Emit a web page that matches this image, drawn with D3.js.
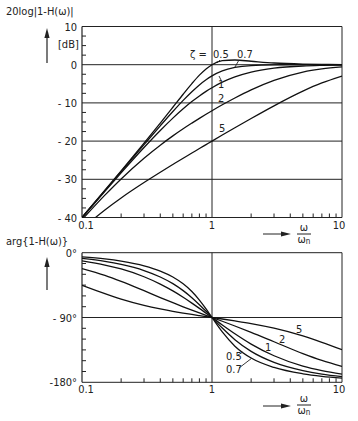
<!DOCTYPE html>
<html><head><meta charset="utf-8">
<script src="https://cdn.jsdelivr.net/npm/d3@7"></script>
<style>
body{margin:0;background:#fff;}
svg text{font-family:"DejaVu Sans Condensed","Liberation Sans Narrow","DejaVu Sans",sans-serif;fill:#222;}
</style></head>
<body><svg id="c" width="358" height="421"></svg>
<script>
// ---- data ----
const omega = [0.1,0.15,0.2,0.3,0.4,0.5,0.6,0.7,0.8,0.9,1,1.2,1.5,2,3,5,7,10];
const zetaLabels = ["0.5","0.7","1","2","5"];
// magnitude 20log|1-H(ω)| in dB
const mag05 = [-39.96,-32.86,-27.79,-20.55,-15.29,-11.14,-7.73,-4.95,-2.74,-1.10,0,1.04,1.23,0.90,0.45,0.17,0.08,0.04];
const mag07 = [-40.0,-32.96,-27.96,-20.94,-16.0,-12.26,-9.34,-7.07,-5.29,-3.94,-2.92,-1.62,-0.72,-0.22,-0.04,0,0,0];
const mag1  = [-40.09,-33.15,-28.30,-21.67,-17.21,-13.98,-11.54,-9.66,-8.18,-6.98,-6.02,-4.58,-3.20,-1.94,-0.92,-0.34,-0.18,-0.09];
const mag2  = [-40.57,-34.15,-29.90,-24.48,-21.06,-18.63,-16.77,-15.29,-14.04,-12.97,-12.04,-10.49,-8.71,-6.59,-4.10,-1.93,-1.10,-0.57];
const mag5  = [-42.97,-38.02,-34.88,-30.85,-28.15,-26.12,-24.48,-23.13,-21.95,-20.92,-20.0,-18.42,-16.51,-14.08,-10.76,-6.92,-4.78,-2.97];
// phase arg{1-H(ω)} in degrees
const ph05 = [-5.8,-8.7,-11.8,-18.2,-25.5,-33.7,-43.2,-53.9,-65.8,-78.1,-90,-110.1,-129.8,-146.3,-159.4,-168.2,-171.7,-174.2];
const ph07 = [-8.0,-12.1,-16.3,-24.8,-33.7,-43.0,-52.7,-62.5,-72.2,-81.4,-90,-104.7,-120.8,-137.0,-152.3,-163.7,-168.5,-172.0];
const ph1  = [-11.4,-17.1,-22.6,-33.4,-43.6,-53.1,-61.9,-70.0,-77.3,-84.0,-90,-100.4,-112.6,-126.9,-143.1,-157.4,-163.7,-168.6];
const ph2  = [-22.0,-31.5,-39.8,-52.8,-62.3,-69.4,-75.1,-79.7,-83.6,-87.0,-90,-95.2,-101.8,-110.6,-123.7,-140.2,-149.7,-158.0];
const ph5  = [-45.3,-56.9,-64.4,-73.1,-78.1,-81.5,-83.9,-85.8,-87.4,-88.8,-90,-92.1,-94.8,-98.5,-104.9,-115.6,-124.4,-134.7];
const magTicks = [10,0,-10,-20,-30,-40];
const magTickLabels = ["10","0","- 10","- 20","- 30","- 40"];
const phTicks = [0,-90,-180];
const phTickLabels = ["0°","- 90°","-180°"];
const xTicks = [0.1,1,10];
const xTickLabels = ["0.1","1","10"];

const magSeries = [mag05,mag07,mag1,mag2,mag5];
const phSeries = [ph05,ph07,ph1,ph2,ph5];

// ---- drawing ----
const svg = d3.select("#c");
const ink = "#222";
const x = d3.scaleLog().domain([0.1,10]).range([82,342]);
const yM = d3.scaleLinear().domain([-40,10]).range([217.5,26.5]);
const yP = d3.scaleLinear().domain([-180,0]).range([382.3,252.7]);

function minorX(){
  const m=[];
  [0.1,1].forEach(d=>{for(let k=2;k<=9;k++) m.push(d*k);});
  return m;
}

function panel(y, ticks, labels, minorStep, series, clipId){
  const g = svg.append("g");
  const [y0,y1] = y.domain();
  // horizontal grid lines (including borders)
  g.selectAll("line.h").data(ticks).enter().append("line")
    .attr("x1",x(0.1)).attr("x2",x(10))
    .attr("y1",d=>y(d)).attr("y2",d=>y(d))
    .attr("stroke",ink).attr("stroke-width",1);
  // vertical lines
  g.selectAll("line.v").data([0.1,1,10]).enter().append("line")
    .attr("x1",d=>x(d)).attr("x2",d=>x(d))
    .attr("y1",y(y1)).attr("y2",y(y0))
    .attr("stroke",ink).attr("stroke-width",d=>d===0.1?1.2:1);
  // minor y ticks
  const minors = d3.range(y0,y1+0.001,minorStep).filter(v=>!ticks.includes(v));
  g.selectAll("line.my").data(minors).enter().append("line")
    .attr("x1",x(0.1)).attr("x2",x(0.1)+4)
    .attr("y1",d=>y(d)).attr("y2",d=>y(d))
    .attr("stroke",ink).attr("stroke-width",1);
  // minor x ticks
  g.selectAll("line.mx").data(minorX()).enter().append("line")
    .attr("x1",d=>x(d)).attr("x2",d=>x(d))
    .attr("y1",y(y0)).attr("y2",y(y0)-4)
    .attr("stroke",ink).attr("stroke-width",1);
  // y tick labels
  g.selectAll("text.yl").data(ticks).enter().append("text")
    .attr("x",x(0.1)-5).attr("y",d=>y(d)+4)
    .attr("text-anchor","end").attr("font-size",11)
    .text((d,i)=>labels[i]);
  // clip
  svg.append("clipPath").attr("id",clipId).append("rect")
    .attr("x",x(0.1)).attr("y",y(y1)).attr("width",x(10)-x(0.1)).attr("height",y(y0)-y(y1));
  const line = d3.line().x((d,i)=>x(omega[i])).y(d=>y(d)).curve(d3.curveMonotoneX);
  g.append("g").attr("clip-path",`url(#${clipId})`)
    .selectAll("path").data(series).enter().append("path")
    .attr("d",line).attr("fill","none").attr("stroke","#111").attr("stroke-width",1.3);
  // x tick labels
  const by = y(y0)+11;
  g.selectAll("text.xl").data(xTicks).enter().append("text")
    .attr("x",(d,i)=>i===0?x(d)+4:(i===2?x(d)-3:x(d)))
    .attr("y",by).attr("text-anchor","middle").attr("font-size",11)
    .text((d,i)=>xTickLabels[i]);
  return g;
}

panel(yM, magTicks, magTickLabels, 2.5, magSeries, "clipM");
panel(yP, phTicks, phTickLabels, 15, phSeries, "clipP");

// axis titles and arrows
function upArrow(xp, yTop, yBot){
  svg.append("line").attr("x1",xp).attr("x2",xp).attr("y1",yBot).attr("y2",yTop+8)
    .attr("stroke",ink).attr("stroke-width",1.2);
  svg.append("path").attr("d",`M${xp},${yTop} L${xp-2.6},${yTop+10} L${xp+2.6},${yTop+10} Z`).attr("fill",ink);
}
function rightArrow(x0, x1, yp){
  svg.append("line").attr("x1",x0).attr("x2",x1-8).attr("y1",yp).attr("y2",yp)
    .attr("stroke",ink).attr("stroke-width",1);
  svg.append("path").attr("d",`M${x1},${yp} L${x1-10},${yp-2.5} L${x1-10},${yp+2.5} Z`).attr("fill",ink);
}
function fraction(cx, yBar){
  svg.append("text").attr("x",cx).attr("y",yBar-3).attr("text-anchor","middle").attr("font-size",11).text("ω");
  svg.append("line").attr("x1",cx-7).attr("x2",cx+7).attr("y1",yBar).attr("y2",yBar).attr("stroke",ink).attr("stroke-width",1);
  const t = svg.append("text").attr("x",cx).attr("y",yBar+9).attr("text-anchor","middle").attr("font-size",11);
  t.append("tspan").text("ω");
  t.append("tspan").attr("font-size",8).attr("dy",1).text("n");
}

svg.append("text").attr("x",6).attr("y",15).attr("font-size",11).text("20log|1-H(ω)|");
svg.append("text").attr("x",58).attr("y",48).attr("font-size",11).text("[dB]");
upArrow(47,28,63);
rightArrow(263,291,234);
fraction(304,234);

svg.append("text").attr("x",6).attr("y",245).attr("font-size",11).text("arg{1-H(ω)}");
upArrow(47,257,290);
rightArrow(263,291,406);
fraction(304,405);

// curve labels, top panel
const fs = 11;
svg.append("text").attr("x",190).attr("y",58).attr("font-size",fs).text("ζ = ");
svg.append("text").attr("x",213).attr("y",58).attr("font-size",fs).text(zetaLabels[0]);
svg.append("text").attr("x",237).attr("y",58).attr("font-size",fs).text(zetaLabels[1]);
svg.append("text").attr("x",218).attr("y",88).attr("font-size",fs).text(zetaLabels[2]);
svg.append("text").attr("x",218).attr("y",102).attr("font-size",fs).text(zetaLabels[3]);
svg.append("text").attr("x",219).attr("y",132).attr("font-size",fs).text(zetaLabels[4]);
const leaders = [[220,60,217,63],[239,60,235,67],[221,80,219,76]];
svg.selectAll("line.ld").data(leaders).enter().append("line")
  .attr("x1",d=>d[0]).attr("y1",d=>d[1]).attr("x2",d=>d[2]).attr("y2",d=>d[3])
  .attr("stroke",ink).attr("stroke-width",0.9);

// curve labels, bottom panel
svg.append("text").attr("x",296).attr("y",333).attr("font-size",fs).text(zetaLabels[4]);
svg.append("text").attr("x",279).attr("y",343).attr("font-size",fs).text(zetaLabels[3]);
svg.append("text").attr("x",265).attr("y",351).attr("font-size",fs).text(zetaLabels[2]);
svg.append("text").attr("x",226).attr("y",360).attr("font-size",fs).text(zetaLabels[0]);
svg.append("text").attr("x",226).attr("y",373).attr("font-size",fs).text(zetaLabels[1]);
const leaders2 = [[238,355,243,352],[239,368,252,358]];
svg.selectAll("line.ld2").data(leaders2).enter().append("line")
  .attr("x1",d=>d[0]).attr("y1",d=>d[1]).attr("x2",d=>d[2]).attr("y2",d=>d[3])
  .attr("stroke",ink).attr("stroke-width",0.9);
</script></body></html>
